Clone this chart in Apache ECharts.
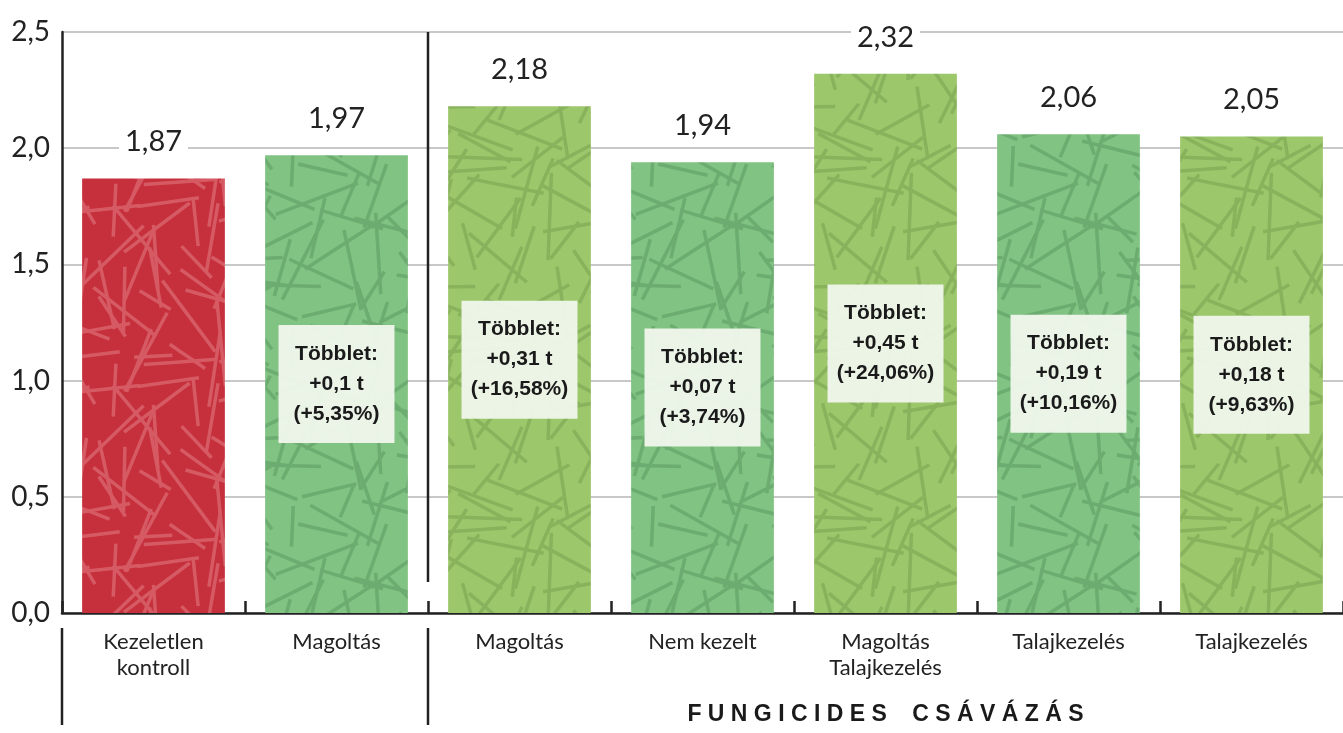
<!DOCTYPE html>
<html>
<head>
<meta charset="utf-8">
<script src="https://cdn.jsdelivr.net/npm/echarts@6/dist/echarts.min.js"></script>
<style>
  html, body { margin: 0; background: #fff; }
  #main { width: 1343px; height: 733px; }
</style>
</head>
<body>
<div id="main"></div>
<script>
// adatok
const categories = ['Kezeletlen\nkontroll', 'Magoltás', 'Magoltás', 'Nem kezelt', 'Magoltás\nTalajkezelés', 'Talajkezelés', 'Talajkezelés'];
const yields = [1.87, 1.97, 2.18, 1.94, 2.32, 2.06, 2.05];
const surplusT = [null, '0,1', '0,31', '0,07', '0,45', '0,19', '0,18'];
const surplusPct = [null, '5,35', '16,58', '3,74', '24,06', '10,16', '9,63'];
const barKinds = ['red', 'green', 'lime', 'green', 'lime', 'green', 'lime'];
const groupTitle = 'FUNGICIDES CSÁVÁZÁS';

const FONT = 'Lato, "Noto Sans", sans-serif';

// egyszerű determinisztikus generátor a vonalas textúrához
function prng(seed) {
  return function () {
    seed |= 0; seed = seed + 0x6D2B79F5 | 0;
    var t = Math.imul(seed ^ seed >>> 15, 1 | seed);
    t = t + Math.imul(t ^ t >>> 7, 61 | t) ^ t;
    return ((t ^ t >>> 14) >>> 0) / 4294967296;
  };
}

function makeTexture(bg, line, seed) {
  var size = 180, cells = 6, cell = size / cells;
  var c = document.createElement('canvas');
  c.width = c.height = size;
  var ctx = c.getContext('2d');
  ctx.fillStyle = bg;
  ctx.fillRect(0, 0, size, size);
  ctx.strokeStyle = line;
  ctx.lineWidth = 3.5;
  var rnd = prng(seed);
  for (var cx = 0; cx < cells; cx++) {
    for (var cy = 0; cy < cells; cy++) {
      var x = (cx + rnd()) * cell, y = (cy + rnd()) * cell;
      var a = rnd() * Math.PI, len = 35 + rnd() * 55;
      var dx = Math.cos(a) * len / 2, dy = Math.sin(a) * len / 2;
      for (var ox = -size; ox <= size; ox += size) {
        for (var oy = -size; oy <= size; oy += size) {
          ctx.beginPath();
          ctx.moveTo(x + ox - dx, y + oy - dy);
          ctx.lineTo(x + ox + dx, y + oy + dy);
          ctx.stroke();
        }
      }
    }
  }
  return c;
}

const textures = {
  red: makeTexture('#c5303c', '#d65a63', 7),
  green: makeTexture('#80c382', '#6dac70', 11),
  lime: makeTexture('#9dc76b', '#88b35c', 23)
};

var chart = echarts.init(document.getElementById('main'));

var barData = yields.map(function (v, i) {
  return {
    value: v,
    itemStyle: { color: { image: textures[barKinds[i]], repeat: 'repeat' } },
    label: { show: surplusT[i] !== null }
  };
});

var option = {
  animation: false,
  grid: { left: 62, right: -7, top: 32, bottom: 120, containLabel: false },
  xAxis: {
    type: 'category',
    data: categories,
    axisLine: { lineStyle: { color: '#222', width: 2.5 } },
    axisTick: { show: true, inside: true, length: 12, interval: 0, lineStyle: { color: '#222', width: 2.5 } },
    axisLabel: { interval: 0, fontFamily: FONT, fontSize: 22, lineHeight: 26, color: '#222', margin: 16 }
  },
  yAxis: {
    type: 'value',
    min: 0,
    max: 2.5,
    interval: 0.5,
    axisLine: { show: true, lineStyle: { color: '#222', width: 2.5 } },
    axisTick: { show: false },
    axisLabel: {
      fontFamily: FONT, fontSize: 28, color: '#222', margin: 12,
      formatter: function (v) { return v.toFixed(1).replace('.', ','); }
    },
    splitLine: { lineStyle: { color: '#c8c8c8', width: 2 } }
  },
  series: [
    {
      type: 'bar',
      barWidth: '78%',
      data: barData,
      label: {
        position: 'inside',
        formatter: function (p) {
          var i = p.dataIndex;
          return 'Többlet:\n+' + surplusT[i] + ' t\n(+' + surplusPct[i] + '%)';
        },
        backgroundColor: 'rgba(240,247,236,0.95)',
        padding: [14, 8],
        width: 100,
        align: 'center',
        color: '#1a1a1a',
        fontFamily: '"Liberation Sans", Arial, sans-serif',
        fontWeight: 'bold',
        fontSize: 21,
        lineHeight: 30
      }
    },
    {
      type: 'bar',
      barWidth: '78%',
      barGap: '-100%',
      silent: true,
      data: yields,
      itemStyle: { color: 'rgba(0,0,0,0)' },
      label: {
        show: true,
        position: 'top',
        distance: 20,
        backgroundColor: '#fff',
        padding: [2, 6],
        fontFamily: FONT,
        fontSize: 29,
        color: '#222',
        formatter: function (p) { return p.value.toFixed(2).replace('.', ','); }
      }
    }
  ]
};
chart.setOption(option);

// elválasztó vonalak és csoportcím
var xAt = function (i) { return chart.convertToPixel({ xAxisIndex: 0 }, i); };
var yAt = function (v) { return chart.convertToPixel({ yAxisIndex: 0 }, v); };
var sepX = (xAt(1) + xAt(2)) / 2;
var axisX = xAt(0) - (xAt(1) - xAt(0)) / 2;
var topY = yAt(2.5), baseY = yAt(0);
var lineStyle = { stroke: '#222', lineWidth: 2.5 };
var spaced = groupTitle.split('').map(function (ch) { return ch === ' ' ? '  ' : ch; }).join(' ');

chart.setOption({
  graphic: [
    { type: 'line', shape: { x1: sepX, y1: topY, x2: sepX, y2: baseY - 31 }, style: lineStyle },
    { type: 'line', shape: { x1: axisX, y1: baseY + 15, x2: axisX, y2: 725 }, style: lineStyle },
    { type: 'line', shape: { x1: sepX, y1: baseY + 15, x2: sepX, y2: 725 }, style: lineStyle },
    {
      type: 'text',
      x: (xAt(2) + xAt(6)) / 2,
      y: 715,
      style: {
        text: spaced,
        align: 'center',
        verticalAlign: 'middle',
        fill: '#1a1a1a',
        font: 'bold 23px "Liberation Sans", Arial, sans-serif'
      }
    }
  ]
});
</script>
</body>
</html>
